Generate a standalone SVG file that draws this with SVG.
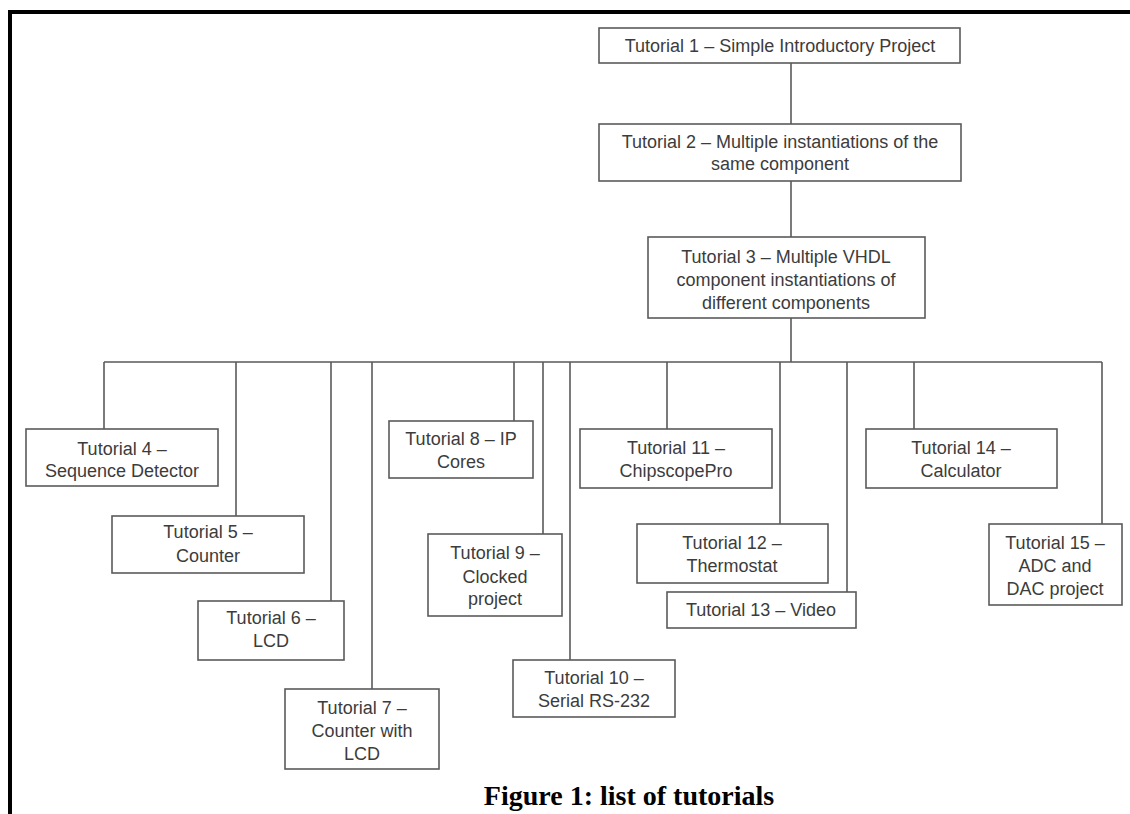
<svg xmlns="http://www.w3.org/2000/svg" width="1130" height="814" viewBox="0 0 1130 814">
<style>
.box{fill:#fff;stroke:#5a5a5a;stroke-width:1.6}
.lbl{font-family:"Liberation Sans",Arial,sans-serif;font-size:18px;fill:#3c3c3c;text-anchor:middle}
.con{stroke:#5a5a5a;stroke-width:1.6;fill:none}
.frame{stroke:#000;stroke-width:4;fill:none}
.cap{font-family:"Liberation Serif","Times New Roman",serif;font-size:28px;font-weight:bold;fill:#000;text-anchor:middle}
</style>
<rect width="1130" height="814" fill="#fff"/>
<path class="frame" d="M10 814 V12 H1130"/>
<g id="connectors">
<path class="con" d="M791 63 V124 M791 181 V237 M791 318 V362 M104 362 H1102"/>
<path class="con" d="M104 362 V429 M236 362 V516 M331 362 V601 M372 362 V689 M514 362 V421 M543 362 V534 M570 362 V660 M667 362 V429 M780 362 V524 M847 362 V592 M914 362 V429 M1102 362 V524"/>
</g>
<g id="n1"><rect class="box" x="599" y="28" width="361" height="35"/><text class="lbl" x="780" y="52">Tutorial 1 – Simple Introductory Project</text></g>
<g id="n2"><rect class="box" x="599" y="124" width="362" height="57"/><text class="lbl" x="780" y="148">Tutorial 2 – Multiple instantiations of the</text><text class="lbl" x="780" y="170">same component</text></g>
<g id="n3"><rect class="box" x="648" y="237" width="277" height="81"/><text class="lbl" x="786" y="263">Tutorial 3 – Multiple VHDL</text><text class="lbl" x="786" y="286">component instantiations of</text><text class="lbl" x="786" y="309">different components</text></g>
<g id="n4"><rect class="box" x="26" y="429" width="192" height="57"/><text class="lbl" x="122" y="455">Tutorial 4 –</text><text class="lbl" x="122" y="477">Sequence Detector</text></g>
<g id="n5"><rect class="box" x="112" y="516" width="192" height="57"/><text class="lbl" x="208" y="538">Tutorial 5 –</text><text class="lbl" x="208" y="562">Counter</text></g>
<g id="n6"><rect class="box" x="198" y="601" width="146" height="59"/><text class="lbl" x="271" y="624">Tutorial 6 –</text><text class="lbl" x="271" y="647">LCD</text></g>
<g id="n7"><rect class="box" x="285" y="689" width="154" height="80"/><text class="lbl" x="362" y="714">Tutorial 7 –</text><text class="lbl" x="362" y="737">Counter with</text><text class="lbl" x="362" y="760">LCD</text></g>
<g id="n8"><rect class="box" x="389" y="421" width="144" height="57"/><text class="lbl" x="461" y="445">Tutorial 8 – IP</text><text class="lbl" x="461" y="468">Cores</text></g>
<g id="n9"><rect class="box" x="428" y="534" width="134" height="82"/><text class="lbl" x="495" y="559">Tutorial 9 –</text><text class="lbl" x="495" y="583">Clocked</text><text class="lbl" x="495" y="605">project</text></g>
<g id="n10"><rect class="box" x="513" y="660" width="162" height="57"/><text class="lbl" x="594" y="684">Tutorial 10 –</text><text class="lbl" x="594" y="707">Serial RS-232</text></g>
<g id="n11"><rect class="box" x="580" y="429" width="192" height="59"/><text class="lbl" x="676" y="454">Tutorial 11 –</text><text class="lbl" x="676" y="477">ChipscopePro</text></g>
<g id="n12"><rect class="box" x="637" y="524" width="191" height="59"/><text class="lbl" x="732" y="549">Tutorial 12 –</text><text class="lbl" x="732" y="572">Thermostat</text></g>
<g id="n13"><rect class="box" x="667" y="592" width="189" height="36"/><text class="lbl" x="761" y="616">Tutorial 13 – Video</text></g>
<g id="n14"><rect class="box" x="866" y="429" width="191" height="59"/><text class="lbl" x="961" y="454">Tutorial 14 –</text><text class="lbl" x="961" y="477">Calculator</text></g>
<g id="n15"><rect class="box" x="989" y="524" width="133" height="81"/><text class="lbl" x="1055" y="549">Tutorial 15 –</text><text class="lbl" x="1055" y="572">ADC and</text><text class="lbl" x="1055" y="595">DAC project</text></g>
<text class="cap" x="629" y="805">Figure 1: list of tutorials</text>
</svg>
